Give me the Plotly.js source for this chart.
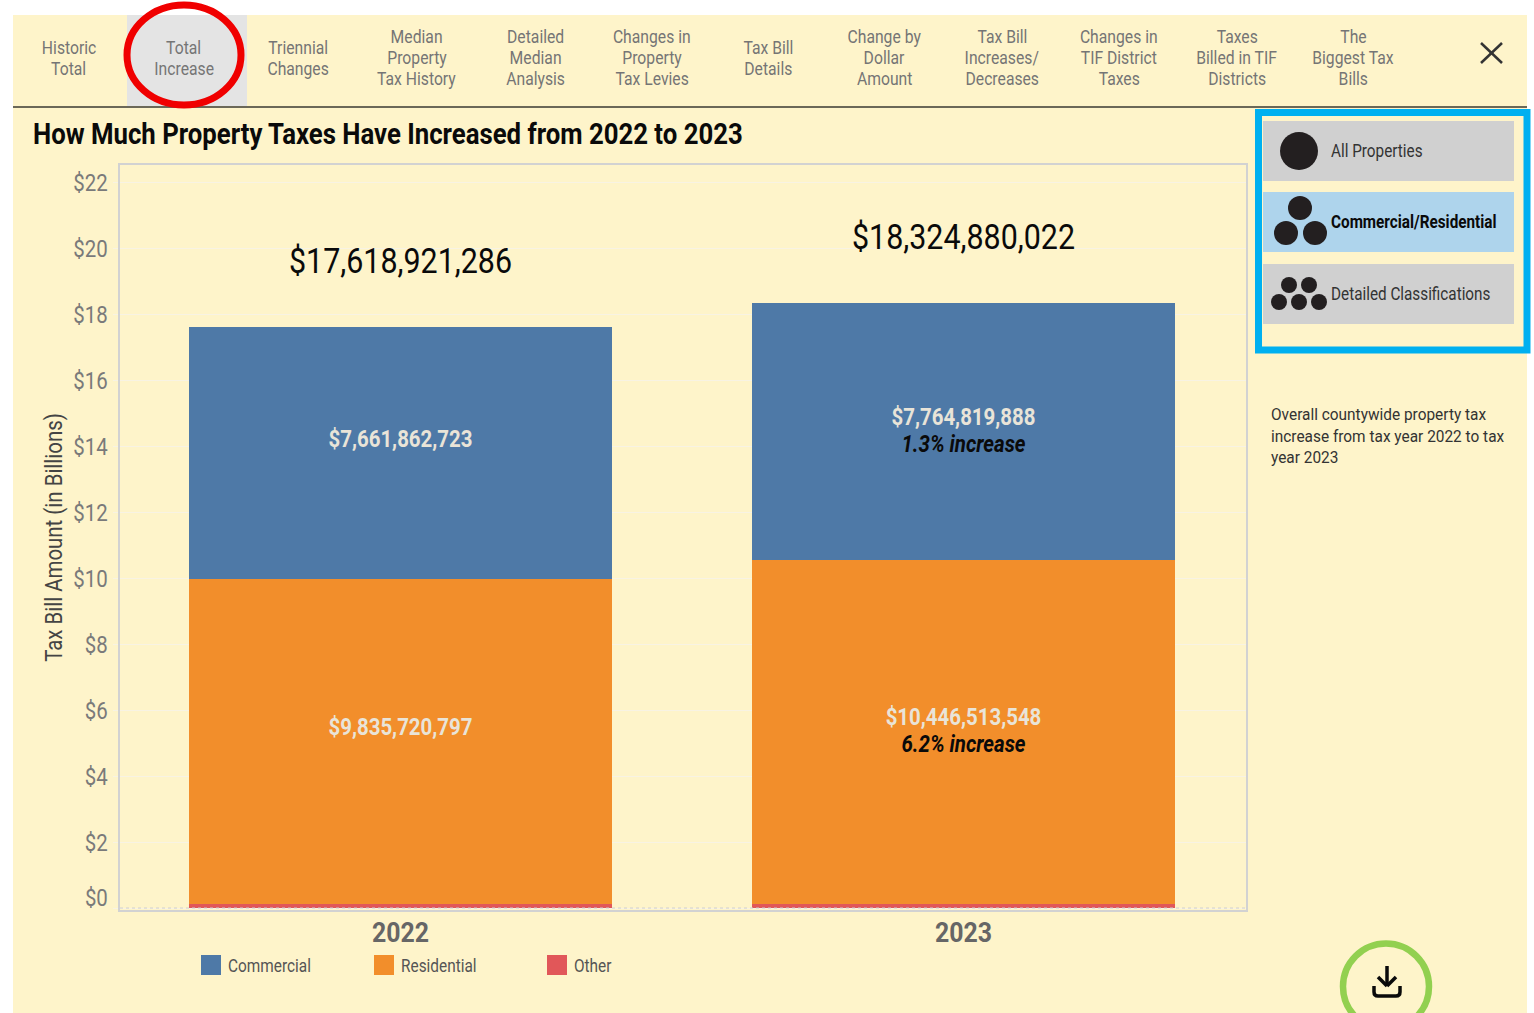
<!DOCTYPE html>
<html>
<head>
<meta charset="utf-8">
<script src="https://cdn.plot.ly/plotly-3.0.1.min.js"></script>
<style>html,body{margin:0;padding:0;background:#fff}#chart{width:1534px;height:1013px}</style>
</head>
<body>
<div id="chart"></div>
<script>
// ---- data ----
const years = ['2022', '2023'];
const commercial = [7661862723, 7764819888];
const residential = [9835720797, 10446513548];
const other = [121337766, 113546586];
const totals = [17618921286, 18324880022];
const increaseCommercial = [null, '1.3% increase'];
const increaseResidential = [null, '6.2% increase'];
const yTicks = [0, 2, 4, 6, 8, 10, 12, 14, 16, 18, 20, 22];
const seriesNames = ['Commercial', 'Residential', 'Other'];
const seriesColors = ['#4E79A7', '#F28E2B', '#E15759'];
const navLabels = [['Historic', 'Total'], ['Total', 'Increase'], ['Triennial', 'Changes'],
  ['Median', 'Property', 'Tax History'], ['Detailed', 'Median', 'Analysis'],
  ['Changes in', 'Property', 'Tax Levies'], ['Tax Bill', 'Details'], ['Change by', 'Dollar', 'Amount'],
  ['Tax Bill', 'Increases/', 'Decreases'], ['Changes in', 'TIF District', 'Taxes'],
  ['Taxes', 'Billed in TIF', 'Districts'], ['The', 'Biggest Tax', 'Bills']];
const navCenters = [68.5, 183.5, 298, 416.5, 535.5, 652, 768.5, 884, 1002, 1119, 1236.5, 1353];
const noteLines = ['Overall countywide property tax', 'increase from tax year 2022 to tax', 'year 2023'];
const buttonLabels = ['All Properties', 'Commercial/Residential', 'Detailed Classifications'];

// ---- helpers ----
const FONT = 'Roboto, sans-serif';
const L = 120, R = 1246, T = 165, B = 910;
const px = x => (x - L) / (R - L);
const py = y => (B - y) / (B - T);
const money = v => '$' + v.toLocaleString('en-US');
const label = (v, note, i) => {
  const first = '<b>' + money(v) + '</b>';
  const second = note[i] ? '<b><i><span style="color:#0a0a0a">' + note[i] + '</span></i></b>' : ' ';
  return first + '<br>' + second;
};
const billions = a => a.map(v => v / 1e9);

const shapes = [], annotations = [];
const rect = (x0, y0, x1, y1, fill, line, w, layer) => shapes.push({type: 'rect', xref: 'paper', yref: 'paper',
  x0: px(x0), x1: px(x1), y0: py(y0), y1: py(y1), fillcolor: fill, line: {color: line || fill, width: w === undefined ? 0 : w}, layer: layer || 'below'});
const circ = (cx, cy, rx, ry, fill, line, w) => shapes.push({type: 'circle', xref: 'paper', yref: 'paper',
  x0: px(cx - rx), x1: px(cx + rx), y0: py(cy - ry), y1: py(cy + ry), fillcolor: fill, line: {color: line || fill, width: w || 0}, layer: 'above'});
const seg = (x0, y0, x1, y1, color, w) => shapes.push({type: 'line', xref: 'paper', yref: 'paper',
  x0: px(x0), x1: px(x1), y0: py(y0), y1: py(y1), line: {color: color, width: w}, layer: 'above'});
const text = (s, x, y, size, color, anchor, bold) => annotations.push({xref: 'paper', yref: 'paper', x: px(x), y: py(y),
  text: bold ? '<b>' + s + '</b>' : s, showarrow: false, xanchor: anchor || 'center', yanchor: 'middle', align: anchor || 'center',
  font: {family: FONT, size: size, color: color}, borderpad: 0, borderwidth: 0});

// page panel and header
rect(13, 15, 1527, 1013, '#FEF4CA');
rect(127, 15, 247, 106, '#E4E4E4');
seg(13, 107, 1527, 107, '#3a3a32', 1.5);
navLabels.forEach((lines, i) => {
  const start = 58 - (lines.length - 1) * 10.5;
  lines.forEach((ln, j) => text(ln, navCenters[i], start + j * 21, 18.5, '#757575'));
});
circ(184, 55, 57, 50, 'rgba(0,0,0,0)', '#F00000', 7);
seg(1481, 43, 1502, 63, '#333333', 2.5);
seg(1502, 43, 1481, 63, '#333333', 2.5);

// right-hand selector
rect(1258.5, 112.5, 1527, 350, 'rgba(0,0,0,0)', '#00B0F0', 7);
rect(1263, 121, 1514, 181, '#D0D0D0');
rect(1263, 192, 1514, 252, '#AED4EC');
rect(1263, 264, 1514, 324, '#D0D0D0');
circ(1299, 151, 19, 19, '#231F20');
[[1300, 208, 12], [1286, 233, 12], [1315, 233, 12]].forEach(c => circ(c[0], c[1], c[2], c[2], '#231F20'));
[[1289, 285, 8], [1309, 285, 8], [1279, 302, 8], [1299, 302, 8], [1319, 302, 8]].forEach(c => circ(c[0], c[1], c[2], c[2], '#231F20'));
text(buttonLabels[0], 1331, 151, 17.5, '#333333', 'left');
text(buttonLabels[1], 1331, 222, 17.5, '#0a0a0a', 'left', true);
text(buttonLabels[2], 1331, 294, 17.5, '#333333', 'left');
noteLines.forEach((ln, i) => text(ln, 1271, 414 + i * 21.5, 17, '#333333', 'left'));

// title, axis-side label for the clamped zero tick
text('How Much Property Taxes Have Increased from 2022 to 2023', 33, 134, 29, '#0a0a0a', 'left', true);
text('$0', 108, 898, 23, '#7a7a7a', 'right');

// legend
const legendX = [201, 374, 547];
seriesNames.forEach((n, i) => {
  rect(legendX[i], 955, legendX[i] + 20, 975, seriesColors[i]);
  text(n, legendX[i] + 27, 965.5, 18, '#555555', 'left');
});

// download icon
circ(1386, 986.5, 43, 43, 'rgba(0,0,0,0)', '#92D050', 6.5);
seg(1387, 966, 1387, 985, '#0a0a0a', 3.5);
seg(1378, 977, 1387, 986, '#0a0a0a', 3.5);
seg(1396, 977, 1387, 986, '#0a0a0a', 3.5);
shapes.push({type: 'path', xref: 'paper', yref: 'paper', layer: 'above', line: {color: '#0a0a0a', width: 3.5},
  path: 'M' + px(1374) + ',' + py(986) + ' L' + px(1374) + ',' + py(992) + ' Q' + px(1374) + ',' + py(996) + ' ' + px(1378) + ',' + py(996) +
        ' L' + px(1396) + ',' + py(996) + ' Q' + px(1400) + ',' + py(996) + ' ' + px(1400) + ',' + py(992) + ' L' + px(1400) + ',' + py(986)});

// dotted baseline
shapes.push({type: 'line', xref: 'paper', yref: 'y', x0: 0, x1: 1, y0: 0, y1: 0, layer: 'above', line: {color: '#cfcfcf', width: 1, dash: 'dot'}});

const textFont = {family: FONT, size: 23, color: '#E9E4D8'};
const TOTAL_LIFT = 1.91;
const traces = [
  {type: 'bar', name: seriesNames[2], x: years, y: billions(other), marker: {color: seriesColors[2]}, hoverinfo: 'name+y'},
  {type: 'bar', name: seriesNames[1], x: years, y: billions(residential), marker: {color: seriesColors[1]},
   text: residential.map((v, i) => label(v, increaseResidential, i)), textposition: 'inside', insidetextanchor: 'middle', textangle: 0,
   constraintext: 'none', textfont: textFont, hoverinfo: 'name+y'},
  {type: 'bar', name: seriesNames[0], x: years, y: billions(commercial), marker: {color: seriesColors[0]},
   text: commercial.map((v, i) => label(v, increaseCommercial, i)), textposition: 'inside', insidetextanchor: 'middle', textangle: 0,
   constraintext: 'none', textfont: textFont, hoverinfo: 'name+y'},
  {type: 'scatter', mode: 'text', name: 'Total', x: years, y: billions(totals).map(v => v + TOTAL_LIFT), text: totals.map(money),
   textposition: 'middle center', textfont: {family: FONT, size: 36, color: '#0a0a0a'}, hoverinfo: 'skip', cliponaxis: false}
];

const layout = {
  width: 1534, height: 1013, margin: {l: L, r: 1534 - R, t: T, b: 1013 - B, pad: 0},
  paper_bgcolor: '#ffffff', plot_bgcolor: 'rgba(0,0,0,0)', barmode: 'stack', bargap: 0.249, showlegend: false,
  font: {family: FONT},
  xaxis: {type: 'category', range: [-0.4982, 1.5018], showgrid: false, zeroline: false, showline: true, mirror: true,
    linecolor: '#D2D2D2', linewidth: 1.5, ticks: '', ticklen: 0, ticklabelstandoff: -3, tickfont: {family: FONT, size: 28, color: '#666666', weight: 'bold'}, fixedrange: true},
  yaxis: {range: [-0.06, 22.515], tickvals: yTicks, ticktext: yTicks.map(v => v === 0 ? ' ' : '$' + v), showgrid: true, gridcolor: '#F8F3E3', gridwidth: 1,
    zeroline: false, showline: true, mirror: true, linecolor: '#D2D2D2', linewidth: 1.5, ticks: 'outside', ticklen: 5, tickcolor: '#F8F3E3',
    tickfont: {family: FONT, size: 23, color: '#7a7a7a'}, fixedrange: true,
    title: {text: 'Tax Bill Amount (in Billions)', font: {family: FONT, size: 23, color: '#444444'}, standoff: 1}},
  shapes: shapes, annotations: annotations
};

// The reference is set in a condensed face; narrow each real text element along its own baseline.
const widthFactor = s => {
  if (navLabels.some(l => l.includes(s))) return 0.85;
  if (seriesNames.includes(s)) return 0.855;
  if (noteLines.includes(s)) return 0.907;
  if (buttonLabels.includes(s)) return 0.874;
  if (totals.map(money).includes(s)) return 0.845;
  return 0.888;
};
Plotly.newPlot('chart', traces, layout, {displayModeBar: false, responsive: false}).then(gd => {
  gd.querySelectorAll('svg text').forEach(t => {
    const s = t.textContent.trim();
    if (!s) return;
    const lines = t.querySelectorAll('tspan.line');
    if (lines.length > 1) lines.forEach((ln, i) => { if (i) ln.setAttribute('dy', '27px'); });
    const b = t.getBBox();
    const a = getComputedStyle(t).textAnchor;
    const ox = a === 'start' ? b.x : a === 'end' ? b.x + b.width : b.x + b.width / 2;
    const prev = t.getAttribute('transform') || '';
    const nudge = t.classList.contains('ytick') || t.closest('.ytick') ? ' translate(-1 1)' : (t.classList.contains('bartext') ? ' translate(0 1)' : '');
    t.setAttribute('transform', prev + nudge + ' translate(' + ox + ' 0) scale(' + widthFactor(s) + ' 1) translate(' + (-ox) + ' 0)');
  });
});
</script>
</body>
</html>
